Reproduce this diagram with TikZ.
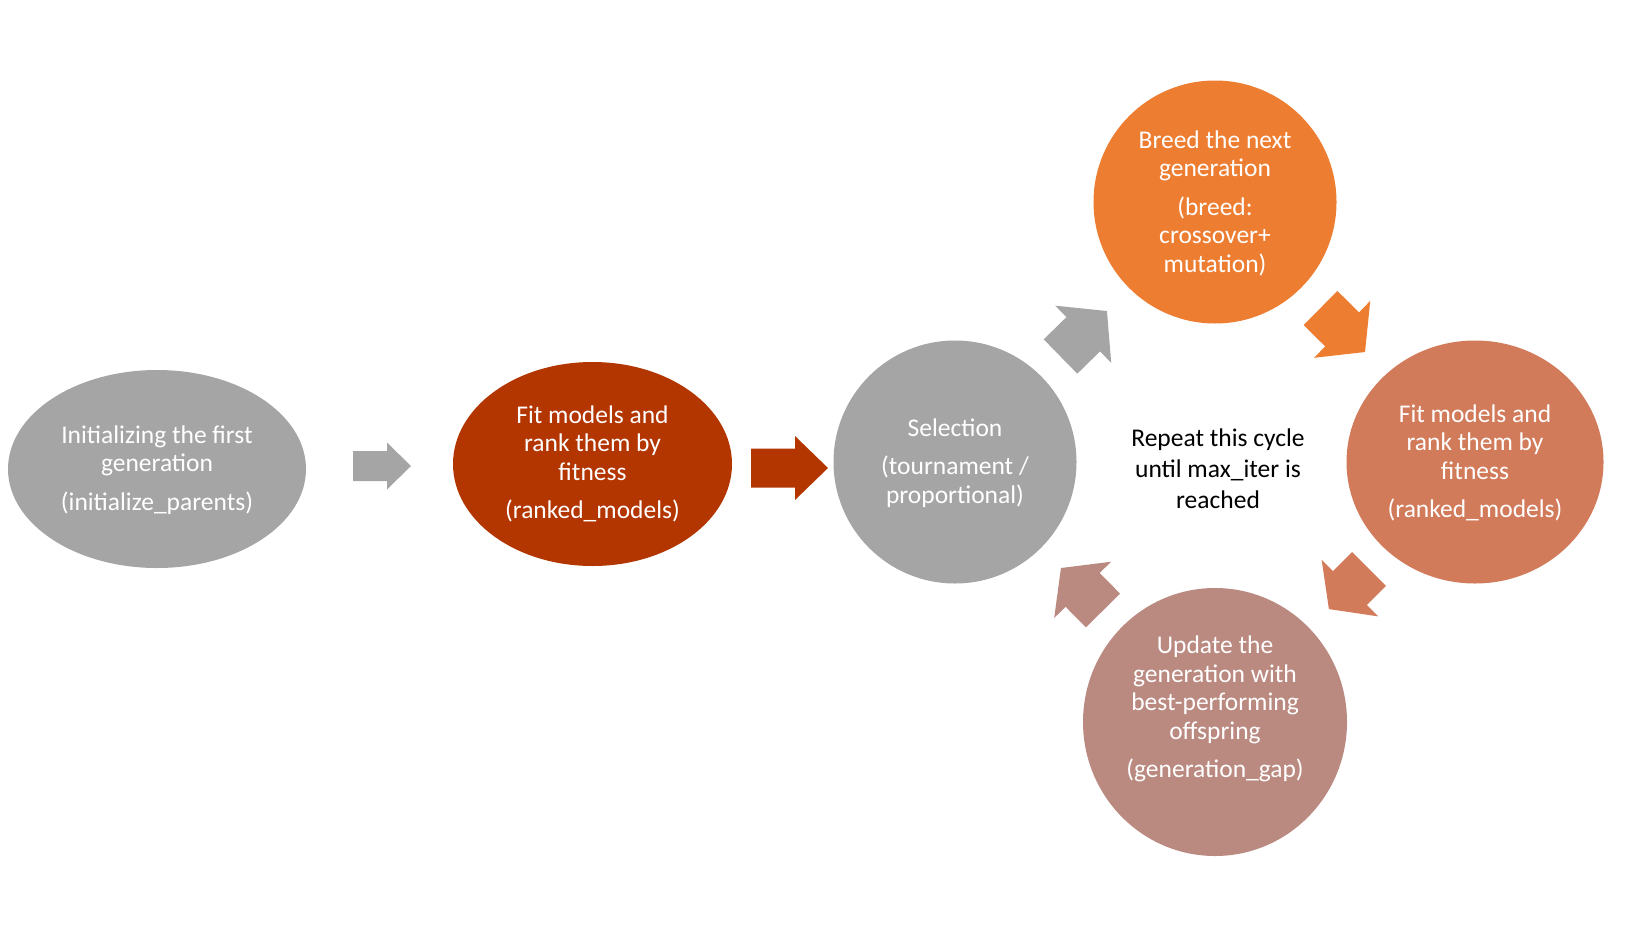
\documentclass[tikz,border=0pt]{standalone}
\usepackage{fontspec}
\setmainfont{Carlito}
\definecolor{cgray}{HTML}{A5A5A5}
\definecolor{cdred}{HTML}{B33500}
\definecolor{corange}{HTML}{ED7D31}
\definecolor{cterra}{HTML}{D27B5B}
\definecolor{cpink}{HTML}{BA8A81}
\tikzset{
  lbl/.style={text=white, align=center, font=\fontsize{25.5}{28.5}\selectfont, inner sep=0pt},
  pics/blockarrow/.style args={#1/#2/#3/#4}{code={
    \path[pic actions] (0,-#3) -- (#1,-#3) -- (#1,-#4) -- (#1+#2,0) -- (#1,#4) -- (#1,#3) -- (0,#3) -- cycle;
  }}
}
\begin{document}
\begin{tikzpicture}[x=1pt,y=-1pt]
\useasboundingbox (0,0) rectangle (1643,929);
% shapes
\fill[cgray]   (157,469)  ellipse [x radius=149, y radius=99];
\fill[cdred]   (592.5,464) ellipse [x radius=139.5, y radius=102];
\fill[cgray]   (955,462)  ellipse [x radius=121.5, y radius=121.5];
\fill[corange] (1215,202) ellipse [x radius=121.5, y radius=121.5];
\fill[cterra]  (1475,462) ellipse [x radius=128.5, y radius=121.5];
\fill[cpink]   (1215,722) ellipse [x radius=132, y radius=134];
% labels
\node[lbl] (init) at (157,470) {Initializing the first\\generation\\[10pt](initialize\_parents)};
\node[lbl] (fit1) at (592.5,464) {Fit models and\\rank them by\\fitness\\[10pt](ranked\_models)};
\node[lbl] (sel) at (955,463) {Selection\\[10pt](tournament /\\proportional)};
\node[lbl] (breed) at (1215,203) {Breed the next\\generation\\[10pt](breed:\\crossover+\\mutation)};
\node[lbl] (fit2) at (1475,463) {Fit models and\\rank them by\\fitness\\[10pt](ranked\_models)};
\node[lbl] (upd) at (1215,709) {Update the\\generation with\\best-performing\\offspring\\[10pt](generation\_gap)};
\node[lbl, text=black, font=\fontsize{25.5}{31}\selectfont] (rep) at (1218,469) {Repeat this cycle\\until max\_iter is\\reached};
% arrows
\coordinate (a1) at (353,466);
\coordinate (a2) at (751,468);
\coordinate (a3) at (1060.5,356.5);
\coordinate (a4) at (1320.5,308);
\coordinate (a5) at (1369,569);
\coordinate (a6) at (1103,610.5);
\pic[fill=cgray] at (a1) {blockarrow=34/24/15/23.5};
\pic[fill=cdred] at (a2) {blockarrow=44/33/19.5/32};
\pic[fill=cgray, rotate=44.4] at (a3) {blockarrow=31.8/33.2/24/40};
\pic[fill=corange, rotate=-44.7] at (a4) {blockarrow=30.4/32.2/24/40};
\pic[fill=cterra, rotate=-135] at (a5) {blockarrow=27/29.7/24/40};
\pic[fill=cpink, rotate=134.7] at (a6) {blockarrow=29/30.8/24/40};
\end{tikzpicture}
\end{document}
